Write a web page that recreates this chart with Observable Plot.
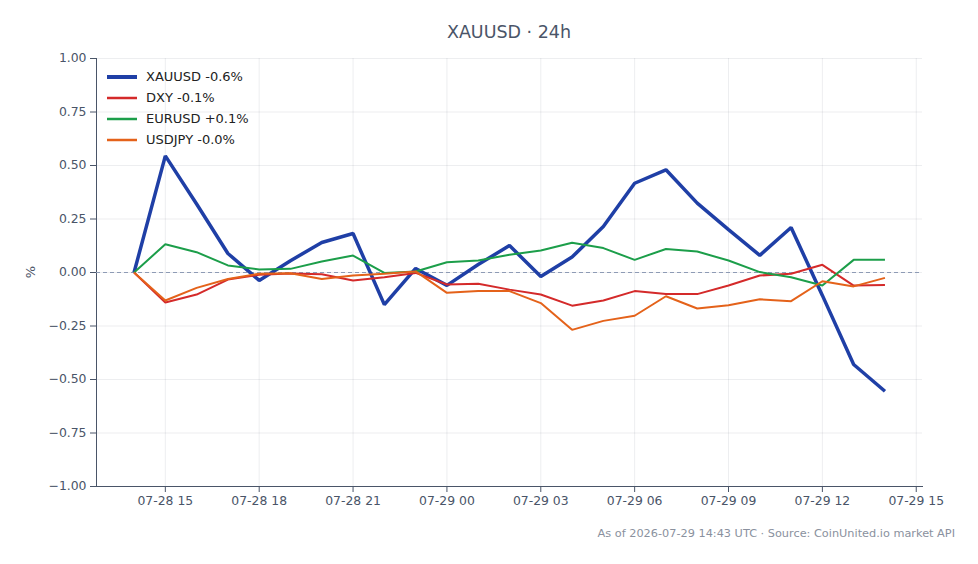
<!DOCTYPE html>
<html>
<head>
<meta charset="utf-8">
<script src="https://cdn.jsdelivr.net/npm/d3@7"></script>
<script src="https://cdn.jsdelivr.net/npm/@observablehq/plot@0.6"></script>
<style>
  html, body { margin: 0; padding: 0; background: #ffffff; }
  #wrap { position: relative; width: 978px; height: 564px; font-family: "DejaVu Sans", sans-serif; }
  #title { position: absolute; left: 96px; width: 826px; top: 22px; text-align: center; font-size: 17.5px; color: #4a5568; }
  #caption { position: absolute; right: 23px; top: 527px; font-size: 11.3px; color: #8a919e; white-space: nowrap; }
  #ylabel { position: absolute; left: 30px; top: 272px; transform: translate(-50%, -50%) rotate(-90deg); font-size: 13px; color: #4a5568; }
  #legend { position: absolute; left: 107px; top: 66px; font-size: 13px; color: #222; }
  .row { height: 21px; display: flex; align-items: center; }
  .row svg { width: 30px; height: 10px; margin-right: 9px; }
</style>
</head>
<body>
<div id="wrap">
  <div id="chart"></div>
  <div id="title"></div>
  <div id="ylabel">%</div>
  <div id="legend"></div>
  <div id="caption"></div>
</div>
<script>
const titleText = "XAUUSD · 24h";
const captionText = "As of 2026-07-29 14:43 UTC · Source: CoinUnited.io market API";

const times = [
  "2026-07-28T14:00Z","2026-07-28T15:00Z","2026-07-28T16:00Z","2026-07-28T17:00Z","2026-07-28T18:00Z",
  "2026-07-28T19:00Z","2026-07-28T20:00Z","2026-07-28T21:00Z","2026-07-28T22:00Z","2026-07-28T23:00Z",
  "2026-07-29T00:00Z","2026-07-29T01:00Z","2026-07-29T02:00Z","2026-07-29T03:00Z","2026-07-29T04:00Z",
  "2026-07-29T05:00Z","2026-07-29T06:00Z","2026-07-29T07:00Z","2026-07-29T08:00Z","2026-07-29T09:00Z",
  "2026-07-29T10:00Z","2026-07-29T11:00Z","2026-07-29T12:00Z","2026-07-29T13:00Z","2026-07-29T14:00Z"
];

const xauusd = [0, 0.545, 0.32, 0.089, -0.037, 0.055, 0.14, 0.182, -0.15, 0.019, -0.06, 0.037, 0.126, -0.019, 0.072, 0.215, 0.417, 0.48, 0.324, 0.2, 0.08, 0.21, -0.107, -0.43, -0.555];
const dxy    = [0, -0.14, -0.103, -0.033, -0.01, -0.005, -0.008, -0.037, -0.022, -0.002, -0.056, -0.053, -0.08, -0.103, -0.155, -0.131, -0.087, -0.101, -0.101, -0.061, -0.014, -0.006, 0.036, -0.061, -0.058];
const eurusd = [0, 0.132, 0.095, 0.033, 0.014, 0.017, 0.051, 0.079, -0.002, 0.005, 0.048, 0.056, 0.083, 0.103, 0.139, 0.114, 0.059, 0.11, 0.098, 0.056, 0.002, -0.022, -0.061, 0.059, 0.059];
const usdjpy = [0, -0.131, -0.072, -0.03, -0.006, -0.003, -0.03, -0.014, -0.006, 0.005, -0.095, -0.087, -0.087, -0.143, -0.268, -0.226, -0.202, -0.111, -0.168, -0.153, -0.125, -0.134, -0.041, -0.065, -0.025];

const seriesNames = ["XAUUSD", "DXY", "EURUSD", "USDJPY"];
const legendLabels = ["XAUUSD -0.6%", "DXY -0.1%", "EURUSD +0.1%", "USDJPY -0.0%"];
const seriesColors = ["#1f3fa6", "#d42a2a", "#1c9e4a", "#e4621a"];
const seriesWidths = [3.5, 2, 2, 2];
const seriesValues = [xauusd, dxy, eurusd, usdjpy];

const yTicks = [-1, -0.75, -0.5, -0.25, 0, 0.25, 0.5, 0.75, 1];
const xTicks = ["2026-07-28T15:00Z","2026-07-28T18:00Z","2026-07-28T21:00Z","2026-07-29T00:00Z","2026-07-29T03:00Z","2026-07-29T06:00Z","2026-07-29T09:00Z","2026-07-29T12:00Z","2026-07-29T15:00Z"];
const xDomain = ["2026-07-28T12:48Z", "2026-07-29T15:12Z"];

const rowsFor = (k) => times.map((t, i) => ({t: new Date(t), v: seriesValues[k][i], name: seriesNames[k]}));

const lineMarks = seriesNames.map((n, k) =>
  Plot.line(rowsFor(k), {x: "t", y: "v", stroke: seriesColors[k], strokeWidth: seriesWidths[k], strokeLinejoin: "miter", strokeLinecap: "butt"})
);

const chart = Plot.plot({
  width: 978,
  height: 564,
  marginLeft: 96,
  marginRight: 56,
  marginTop: 58,
  marginBottom: 78,
  style: {fontFamily: "DejaVu Sans, sans-serif", fontSize: "12.4px", color: "#4a5568", background: "transparent", overflow: "visible"},
  x: {
    type: "utc",
    domain: xDomain.map(d => new Date(d)),
    ticks: xTicks.map(d => new Date(d)),
    tickFormat: d3.utcFormat("%m-%d %H"),
    tickSize: 6,
    tickPadding: 4,
    grid: true,
    line: true,
    label: null
  },
  y: {
    domain: [-1, 1],
    ticks: yTicks,
    tickFormat: d3.format(".2f"),
    tickSize: 6,
    tickPadding: 4,
    grid: true,
    line: true,
    label: null
  },
  marks: [
    Plot.ruleY([0], {stroke: "#8e9bb5", strokeWidth: 1, strokeDasharray: "4,3"}),
    ...lineMarks
  ]
});

document.getElementById("chart").appendChild(chart);
document.getElementById("title").textContent = titleText;
document.getElementById("caption").textContent = captionText;

const legend = document.getElementById("legend");
seriesNames.forEach((n, k) => {
  const row = document.createElement("div");
  row.className = "row";
  row.innerHTML = `<svg viewBox="0 0 30 10"><line x1="0" x2="30" y1="5" y2="5" stroke="${seriesColors[k]}" stroke-width="${seriesWidths[k] + 0.5}"/></svg><span>${legendLabels[k]}</span>`;
  legend.appendChild(row);
});
</script>
</body>
</html>
